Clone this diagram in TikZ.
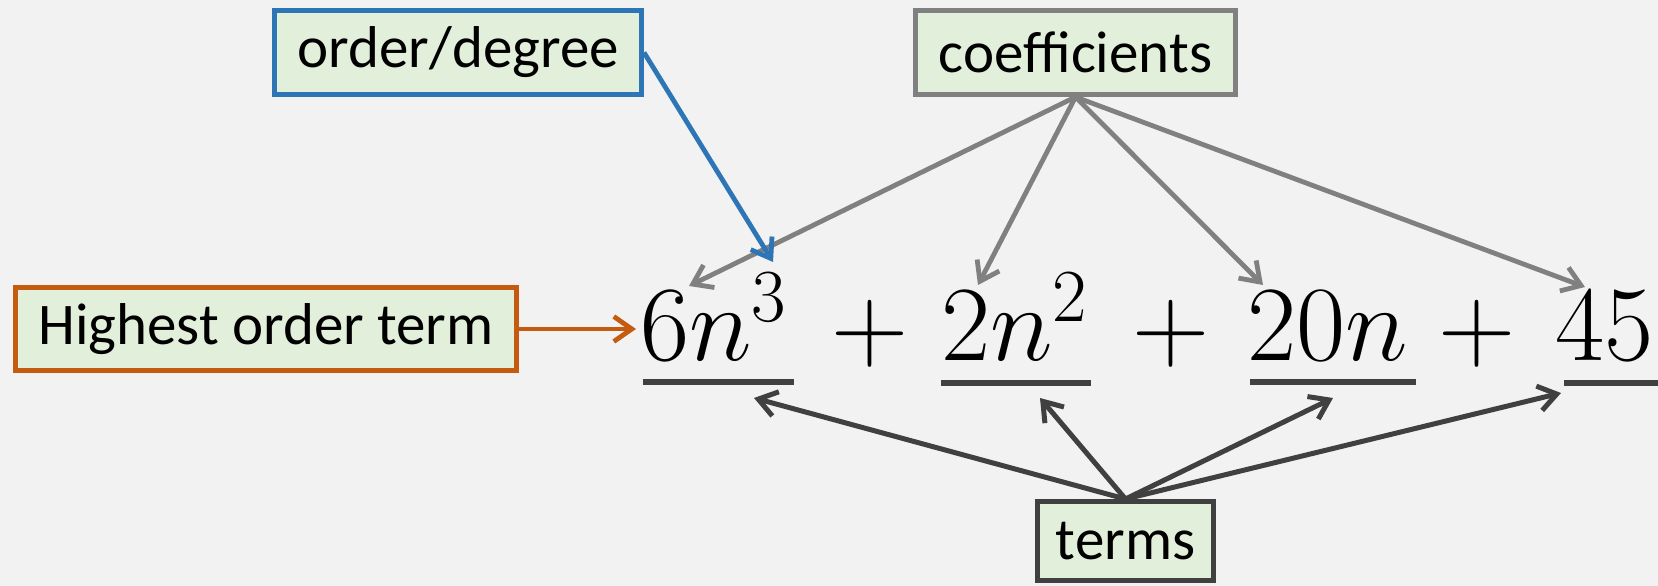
\RequirePackage{fix-cm}
\documentclass[tikz,border=0pt]{standalone}
\usepackage{fontspec}
\newfontfamily\boxfont{Carlito}
\usetikzlibrary{arrows.meta}
\definecolor{bgc}{HTML}{F2F2F2}
\definecolor{boxfill}{HTML}{E2EFDA}
\definecolor{bluec}{HTML}{2E75B6}
\definecolor{orangec}{HTML}{C55A11}
\definecolor{grayc}{HTML}{808080}
\definecolor{darkc}{HTML}{404040}
\tikzset{
  lbl/.style={rectangle, fill=boxfill, line width=5pt, inner sep=0pt,
    font=\boxfont\fontsize{59}{61}\selectfont, text=black},
  mth/.style={inner sep=0pt, font=\fontsize{107}{120}\selectfont},
  tip/.style={-{Straight Barb[length=18pt,width=25pt]}},
  coefarrow/.style={draw=grayc, line width=4.8pt, tip},
  termarrow/.style={draw=darkc, line width=5pt, tip},
  uline/.style={draw=darkc, line width=6pt}
}
\begin{document}
\begin{tikzpicture}[x=1pt,y=-1pt]
\fill[bgc] (0,0) rectangle (1658,586);
\useasboundingbox (0,0) rectangle (1658,586);
% boxes
\node[lbl, draw=bluec, minimum width=367pt, minimum height=84pt] (od) at (458,52.5) {order/degree};
\node[lbl, draw=grayc, minimum width=320pt, minimum height=84pt] (coef) at (1075.5,52.5) {coefficients};
\node[lbl, draw=orangec, minimum width=501pt, minimum height=83pt] (hot) at (266,329) {Highest order term};
\node[lbl, draw=darkc, minimum width=176pt, minimum height=79pt] (terms) at (1125.5,541) {terms};
% math terms
\node[mth, anchor=base west] (t1) at (640,360) {$6n^3$};
\node[mth, anchor=base] (p1) at (870,360) {$+$};
\node[mth, anchor=base west] (t2) at (941,360) {$2n^2$};
\node[mth, anchor=base] (p2) at (1170.5,360) {$+$};
\node[mth, anchor=base west] (t3) at (1247,360) {$20n$};
\node[mth, anchor=base] (p3) at (1477,360) {$+$};
\node[mth, anchor=base west] (t4) at (1555,360) {$45$};
% underlines
\draw[uline] (643,382) -- (794,382);
\draw[uline] (941,383) -- (1091,383);
\draw[uline] (1250,382) -- (1416,382);
\draw[uline] (1564,383) -- (1670,383);
% arrow end points
\coordinate (c1) at (689,286);
\coordinate (c2) at (978,285);
\coordinate (c3) at (1263,285);
\coordinate (c4) at (1585,287);
\coordinate (d1) at (754,398);
\coordinate (d2) at (1040,398);
\coordinate (d3) at (1333,398);
\coordinate (d4) at (1561,393);
\coordinate (b1) at (773,262);
\coordinate (o1) at (636,329);
% connectors
\draw[coefarrow] (coef.south) -- (c1);
\draw[coefarrow] (coef.south) -- (c2);
\draw[coefarrow] (coef.south) -- (c3);
\draw[coefarrow] (coef.south) -- (c4);
\draw[termarrow] (terms.north) -- (d1);
\draw[termarrow] (terms.north) -- (d2);
\draw[termarrow] (terms.north) -- (d3);
\draw[termarrow] (terms.north) -- (d4);
\draw[draw=bluec, line width=4.8pt, tip] (od.east) -- (b1);
\draw[draw=orangec, line width=4.8pt, tip] (hot.east) -- (o1);
\end{tikzpicture}
\end{document}
